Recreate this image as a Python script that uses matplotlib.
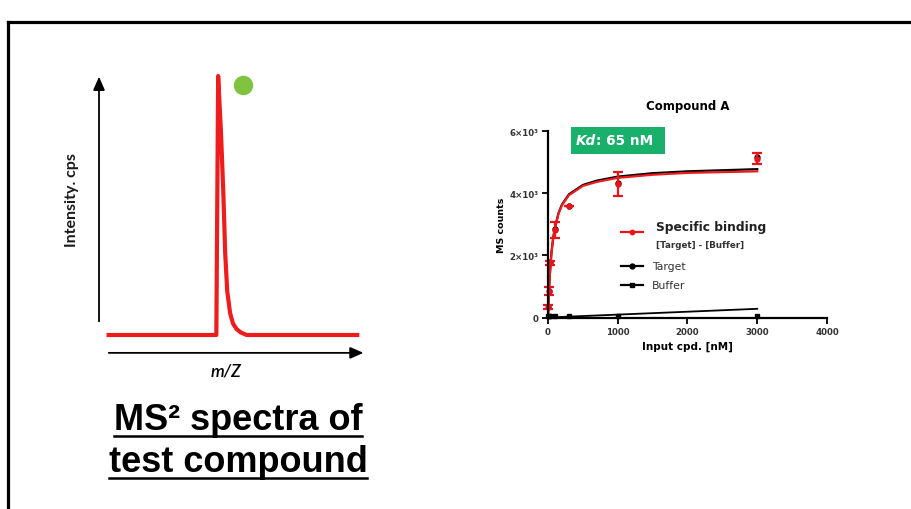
import matplotlib
matplotlib.use("Agg")
import matplotlib.pyplot as plt
from matplotlib.lines import Line2D
from matplotlib.patches import Rectangle

W, H = 912, 510

# cartoon MS2 spectrum (arbitrary units)
spec_mz = [1, 42.6, 43.3, 44.4, 45.3, 46.0, 46.8, 47.9, 49.0, 50.4, 52.0, 54.3, 97]
spec_int = [0, 0, 100, 78, 55, 32, 17, 8.5, 4.5, 2.3, 1.0, 0, 0]
dot_mz, dot_int = 52.9, 96.5

# binding data, Compound A
conc = [3, 10, 30, 100, 300, 1000, 3000]
sb_y = [330, 850, 1760, 2820, 3580, 4300, 5120]
sb_err = [60, 130, 60, 250, 0, 400, 170]
target_y = [340, 870, 1790, 2850, 3600, 4340, 5170]
buffer_y = [40, 40, 50, 60, 60, 50, 60]

fit_x = [0, 10, 25, 50, 75, 100, 150, 200, 300, 500, 700, 1000, 1500, 2000, 3000]
sb_fit = [0, 640, 1330, 2090, 2560, 2880, 3340, 3620, 3940, 4240, 4370, 4500, 4600, 4660, 4710]
target_fit = [0, 650, 1350, 2110, 2580, 2900, 3360, 3640, 3970, 4270, 4410, 4540, 4650, 4710, 4780]
buffer_fit_x = [0, 3000]
buffer_fit_y = [0, 280]

x_ticks = [0, 1000, 2000, 3000, 4000]
y_ticks = [0, 2000, 4000, 6000]
y_labels = ["0", "2×10³", "4×10³", "6×10³"]

fig = plt.figure(figsize=(W / 100, H / 100), dpi=100)
fig.patch.set_facecolor("white")

def fx(px):
    return px / W

def fy(py):
    return 1 - py / H

# outer frame (top and left edges only are visible)
fig.add_artist(Line2D([fx(8), fx(8)], [fy(23), 0], color="black", lw=2.3))
fig.add_artist(Line2D([fx(8), 1], [fy(23), fy(23)], color="black", lw=2.3))

# ---- left panel: spectrum cartoon ----
# mz 0..100 -> px 106..365, int 0..100 -> px 336..77
sc = 2.59
x0px, y0px = 106, 336
left_px, right_px = 40, 400
top_px, bot_px = 50, 390
axl = fig.add_axes([fx(left_px), fy(bot_px), (right_px - left_px) / W, (bot_px - top_px) / H])
axl.set_xlim((left_px - x0px) / sc, (right_px - x0px) / sc)
axl.set_ylim((y0px - bot_px) / sc, (y0px - top_px) / sc)
axl.axis("off")

axl.plot(spec_mz, spec_int, color="#ee1c1c", lw=3.0, solid_joinstyle="round")
axl.plot([dot_mz], [dot_int], "o", color="#80c341", ms=13)

arrow = dict(arrowstyle="-|>,head_length=0.8,head_width=0.35", color="black", lw=1.3)
axl.annotate("", xy=(-2.7, 100.8), xytext=(-2.7, 4.2), arrowprops=arrow)
axl.annotate("", xy=(100.5, -6.9), xytext=(0, -6.9), arrowprops=arrow)
axl.text(-13.2, 52.5, "Intensity. cps", rotation=90, ha="center", va="center",
         fontsize=11.5, family="Lato", weight="bold", color="#1a1a1a")
axl.text(46.5, -13.6, "m/Z", ha="center", va="center", fontsize=12.5,
         family="Lato", style="italic", weight="semibold")

t1 = fig.text(fx(238), fy(421), "MS² spectra of", ha="center", va="center",
              fontsize=26, family="Liberation Sans", weight="bold")
t2 = fig.text(fx(238), fy(463), "test compound", ha="center", va="center",
              fontsize=26, family="Liberation Sans", weight="bold")

# ---- right panel: binding curve ----
ax = fig.add_axes([fx(548), fy(318.5), (827 - 548) / W, (318.5 - 132.3) / H])
ax.set_xlim(0, 4000)
ax.set_ylim(0, 6000)
for s in ["top", "right"]:
    ax.spines[s].set_visible(False)
for s in ["left", "bottom"]:
    ax.spines[s].set_linewidth(1.6)
ax.set_xticks(x_ticks)
ax.set_xticklabels([str(v) for v in x_ticks])
ax.set_yticks(y_ticks)
ax.set_yticklabels(y_labels)
ax.tick_params(length=4, width=1.3, pad=3, labelsize=6.2)
for lab in ax.get_xticklabels() + ax.get_yticklabels():
    lab.set_fontweight("bold")
    lab.set_color("#333333")

ax.plot(buffer_fit_x, buffer_fit_y, color="black", lw=1.3, clip_on=False)
ax.plot(conc, buffer_y, "s", color="black", ms=3.5, clip_on=False)
ax.plot(fit_x, target_fit, color="black", lw=1.6)
ax.plot(conc, target_y, "o", color="black", ms=3.5)
ax.plot(fit_x, sb_fit, color="#ee1c1c", lw=1.6)
ax.errorbar(conc, sb_y, yerr=sb_err, fmt="o", color="#e8141c", ms=3.5,
            elinewidth=1.6, capsize=3.5, capthick=1.6, clip_on=False)

ax.set_title("Compound A", fontsize=8.5, weight="bold", pad=16, family="DejaVu Sans")
ax.set_xlabel("Input cpd. [nM]", fontsize=7.5, weight="bold", labelpad=3)
ax.set_ylabel("MS counts", fontsize=6.8, weight="bold", labelpad=2)

# Kd box
ax.add_patch(Rectangle((330, 5268), 1347, 870, facecolor="#19b06c", edgecolor="none",
                       clip_on=False, zorder=5))
k1 = ax.text(400, 5710, "Kd", color="white", fontsize=9.8, weight="bold", style="italic",
             va="center", ha="left", zorder=6)
ax.annotate(": 65 nM", xy=(1, 0.5), xycoords=k1, va="center", ha="left",
            color="white", fontsize=9.8, weight="bold", zorder=6)

# legend drawn by hand
def axf(px, py):
    return (px - 548) / 279, (318.5 - py) / 186.2

lx = [axf(621, 0)[0], axf(643, 0)[0]]
ax.plot(lx, [axf(0, 233)[1]] * 2, color="#e8141c", lw=1.6, transform=ax.transAxes, clip_on=False)
ax.plot([sum(lx) / 2], [axf(0, 233)[1]], "o", color="#e8141c", ms=3.2, transform=ax.transAxes, clip_on=False)
ax.text(*axf(656, 227), "Specific binding", transform=ax.transAxes, fontsize=8.8,
        weight="bold", va="center", ha="left", color="#222222")
ax.text(*axf(656, 245), "[Target] - [Buffer]", transform=ax.transAxes, fontsize=6.3,
        weight="bold", va="center", ha="left", color="#333333")
ax.plot(lx, [axf(0, 267)[1]] * 2, color="black", lw=1.6, transform=ax.transAxes, clip_on=False)
ax.plot([sum(lx) / 2], [axf(0, 267)[1]], "o", color="black", ms=3.5, transform=ax.transAxes, clip_on=False)
ax.text(*axf(652, 267), "Target", transform=ax.transAxes, fontsize=7.8,
        va="center", ha="left", color="#333333")
ax.plot(lx, [axf(0, 286)[1]] * 2, color="black", lw=1.6, transform=ax.transAxes, clip_on=False)
ax.plot([sum(lx) / 2], [axf(0, 286)[1]], "s", color="black", ms=3.5, transform=ax.transAxes, clip_on=False)
ax.text(*axf(652, 286), "Buffer", transform=ax.transAxes, fontsize=7.8,
        va="center", ha="left", color="#333333")

# underline the caption lines
fig.canvas.draw()
r = fig.canvas.get_renderer()
for t, uy in [(t1, 437), (t2, 479)]:
    bb = t.get_window_extent(r)
    fig.add_artist(Line2D([bb.x0 / W, bb.x1 / W], [fy(uy), fy(uy)], color="black", lw=1.8))

fig.savefig("out.png", dpi=100)
